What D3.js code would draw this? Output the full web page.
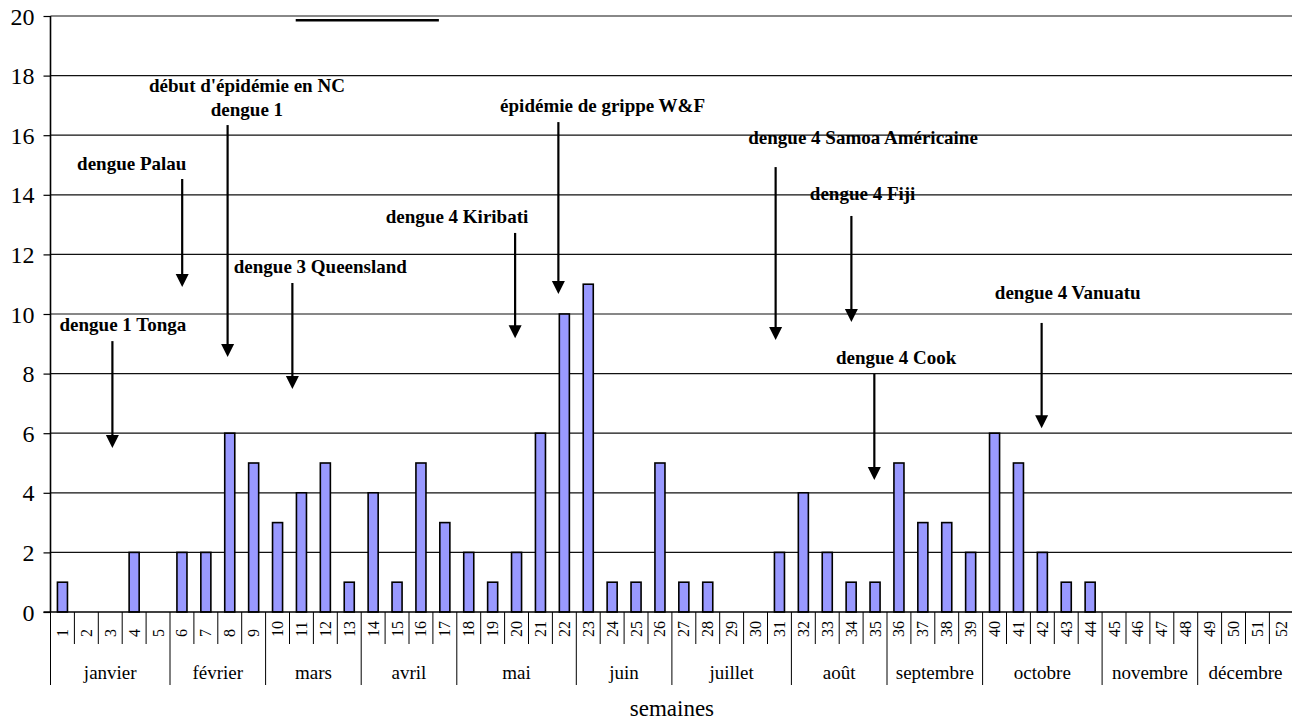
<!DOCTYPE html>
<html>
<head>
<meta charset="utf-8">
<script src="https://cdn.jsdelivr.net/npm/d3@7/dist/d3.min.js"></script>
<style>
  html, body { margin: 0; padding: 0; background: #fff; }
  svg { display: block; }
  svg text { font-family: "Liberation Serif", "Tinos", "Times New Roman", Times, "DejaVu Serif", serif !important; fill: #000; }
</style>
</head>
<body>
<svg id="chart" width="1292" height="722"></svg>
<script>
// ---- data ----
const weeks = d3.range(1, 53);
const cases = [1,0,0,2,0,2,2,6,5,3,4,5,1,4,1,5,3,2,1,2,6,10,11,1,1,5,1,1,0,0,2,4,2,1,1,5,3,3,2,6,5,2,1,1,0,0,0,0,0,0,0,0];
const months = ["janvier","février","mars","avril","mai","juin","juillet","août","septembre","octobre","novembre","décembre"];
const monthStartWeek = [1,6,10,14,18,23,27,32,36,40,45,49];
const yTicks = [0,2,4,6,8,10,12,14,16,18,20];
const xTitle = "semaines";

// annotations: label lines, label position (week, value of first baseline), arrow (week, from value, to value)
const annoLabels = [
  ["dengue 1 Tonga"],
  ["dengue Palau"],
  ["début d'épidémie en NC", "dengue 1"],
  ["dengue 3 Queensland"],
  ["dengue 4 Kiribati"],
  ["épidémie de grippe W&F"],
  ["dengue 4 Samoa Américaine"],
  ["dengue 4 Fiji"],
  ["dengue 4 Cook"],
  ["dengue 4 Vanuatu"]
];
const annoTextWeek  = [3.53, 3.90, 8.72, 11.79, 17.51, 23.60, 34.50, 34.48, 35.88, 43.06];
const annoTextValue = [9.43, 14.83, 17.45, 11.38, 13.05, 16.78, 15.70, 13.83, 8.32, 10.50];
const arrowWeek     = [3.09, 6.01, 7.91, 10.62, 19.94, 21.75, 30.84, 34.01, 34.97, 41.97];
const arrowFrom     = [9.09, 14.53, 16.34, 11.04, 12.72, 16.44, 14.93, 13.29, 7.99, 9.70];
const arrowTo       = [5.50, 10.91, 8.56, 7.48, 9.19, 10.67, 9.13, 9.73, 4.43, 6.17];
// stray segment at the top of the original figure (week from, week to, value)
const strayWeeks = [10.76, 16.75];
const strayValue = 19.86;

// ---- layout ----
const FONT = '"Liberation Serif", "Tinos", "Times New Roman", Times, "DejaVu Serif", serif';
const L = 50.5, R = 1293.3, Y0 = 612, Y20 = 16;
const svg = d3.select("#chart");

const x = d3.scaleBand().domain(weeks).range([L, R]).padding(0);
const xc = d3.scaleLinear().domain([0.5, 52.5]).range([L, R]);
const y = d3.scaleLinear().domain([0, 20]).range([Y0, Y20]);

// gridlines
svg.append("g").selectAll("line").data(yTicks.filter(t => t > 0 && t < 20)).join("line")
  .attr("x1", L).attr("x2", R)
  .attr("y1", d => y(d)).attr("y2", d => y(d))
  .attr("stroke", "#111").attr("stroke-width", 1.2);
// top border line
svg.append("line").attr("x1", L).attr("x2", R).attr("y1", y(20)).attr("y2", y(20))
  .attr("stroke", "#888").attr("stroke-width", 2);

// stray segment
svg.append("line")
  .attr("x1", xc(strayWeeks[0])).attr("x2", xc(strayWeeks[1]))
  .attr("y1", y(strayValue)).attr("y2", y(strayValue))
  .attr("stroke", "#000").attr("stroke-width", 2.5);

// y axis
const yAxis = d3.axisLeft(y).tickValues(yTicks).tickSize(7).tickPadding(9);
const gy = svg.append("g").attr("transform", `translate(${L},0)`).call(yAxis)
  .attr("font-family", FONT);
gy.select(".domain").remove();
gy.selectAll(".tick line").attr("stroke", "#000").attr("stroke-width", 1.2);
gy.selectAll(".tick text").attr("font-size", 24).attr("font-family", FONT).attr("fill", "#000").attr("dy", "0.34em");
svg.append("line").attr("x1", L).attr("x2", L).attr("y1", Y20).attr("y2", Y0)
  .attr("stroke", "#000").attr("stroke-width", 1.6);

// bars
const barW = x.bandwidth() * 0.42;
svg.append("g").selectAll("rect").data(weeks.map((w, i) => ({w, v: cases[i]})).filter(d => d.v > 0)).join("rect")
  .attr("x", d => x(d.w) + x.bandwidth() / 2 - barW / 2)
  .attr("width", barW)
  .attr("y", d => y(d.v))
  .attr("height", d => y(0) - y(d.v))
  .attr("fill", "#9999ff").attr("stroke", "#000").attr("stroke-width", 1.6);

// x axis line
svg.append("line").attr("x1", L - 7).attr("x2", R).attr("y1", Y0).attr("y2", Y0)
  .attr("stroke", "#000").attr("stroke-width", 1.6);

// week separators
const boundaries = weeks.map(w => w).concat([53]);
svg.append("g").selectAll("line").data(boundaries).join("line")
  .attr("x1", d => d <= 52 ? x(d) : R).attr("x2", d => d <= 52 ? x(d) : R)
  .attr("y1", Y0)
  .attr("y2", d => monthStartWeek.includes(d) || d === 53 ? 685 : 644)
  .attr("stroke", "#000").attr("stroke-width", 1);

// week labels (rotated)
svg.append("g").selectAll("text").data(weeks).join("text")
  .attr("transform", d => `translate(${x(d) + x.bandwidth() / 2},637) rotate(-90)`)
  .attr("text-anchor", "start").attr("dy", "0.34em")
  .attr("font-size", 16).attr("font-family", FONT)
  .text(d => d);

// month labels
const monthEnd = monthStartWeek.slice(1).concat([53]);
svg.append("g").selectAll("text").data(months).join("text")
  .attr("x", (d, i) => (xc(monthStartWeek[i] - 0.5) + xc(monthEnd[i] - 0.5)) / 2)
  .attr("y", 679)
  .attr("text-anchor", "middle").attr("font-size", 19).attr("font-family", FONT)
  .text(d => d);

// x title
svg.append("text").attr("x", (L + R) / 2).attr("y", 716)
  .attr("text-anchor", "middle").attr("font-size", 23).attr("font-family", FONT).text(xTitle);

// annotations
const ag = svg.append("g");
annoLabels.forEach((lines, i) => {
  const t = ag.append("text")
    .attr("x", xc(annoTextWeek[i]))
    .attr("y", y(annoTextValue[i]))
    .attr("text-anchor", "middle").attr("font-size", 19).attr("font-weight", "bold")
    .attr("font-family", FONT);
  lines.forEach((ln, j) => {
    t.append("tspan").attr("x", xc(annoTextWeek[i])).attr("dy", j === 0 ? 0 : 24).text(ln);
  });
  const ax = xc(arrowWeek[i]), a1 = y(arrowFrom[i]), a2 = y(arrowTo[i]);
  const head = 13, hw = 6.5;
  ag.append("line").attr("x1", ax).attr("x2", ax).attr("y1", a1).attr("y2", a2 - head + 1)
    .attr("stroke", "#000").attr("stroke-width", 2.2);
  ag.append("path")
    .attr("d", `M${ax - hw},${a2 - head} L${ax + hw},${a2 - head} L${ax},${a2} Z`)
    .attr("fill", "#000");
});
</script>
</body>
</html>
